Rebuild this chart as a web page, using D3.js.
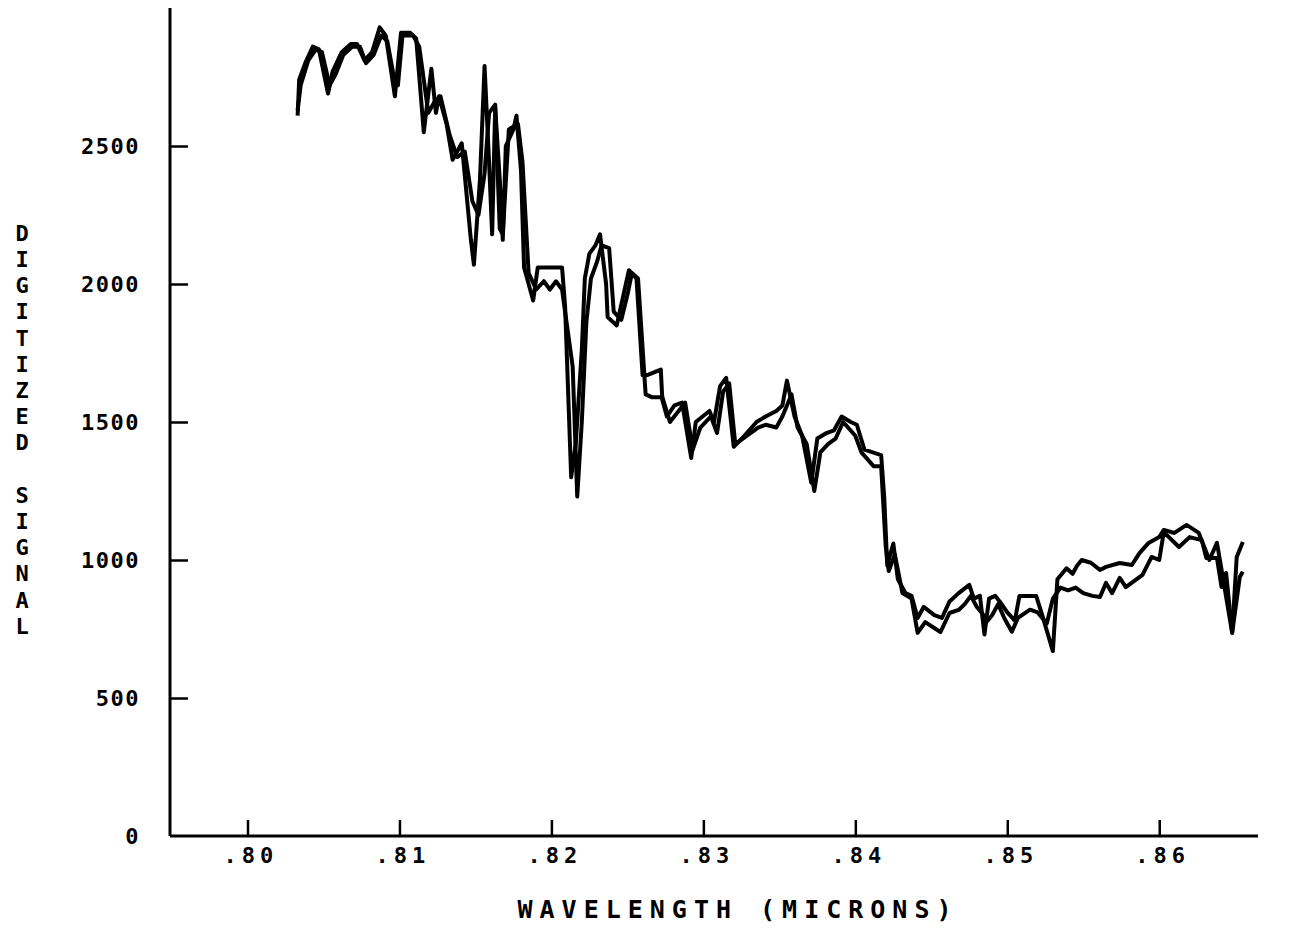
<!DOCTYPE html>
<html>
<head>
<meta charset="utf-8">
<script src="https://cdn.jsdelivr.net/npm/d3@7"></script>
<style>
  body { margin: 0; background: #fff; }
  svg text { font-family: "DejaVu Sans Mono", monospace; font-weight: bold; fill: #000; }
</style>
</head>
<body>
<div id="content"></div>
<script>
// wavelength (microns), digitized signal
const seriesA = [
  [0.8033,2610],[0.8034,2740],[0.8038,2800],[0.8043,2860],[0.8047,2850],[0.8053,2690],[0.8056,2770],
  [0.8062,2840],[0.8068,2870],[0.8072,2870],[0.8077,2810],[0.8082,2840],[0.8087,2930],[0.8091,2900],
  [0.8097,2680],[0.8101,2910],[0.8107,2910],[0.8111,2890],[0.8116,2550],[0.8121,2780],[0.8124,2620],
  [0.8126,2680],[0.8131,2580],[0.8135,2450],[0.8141,2510],[0.8147,2160],[0.8149,2070],[0.8153,2380],
  [0.8156,2790],[0.8159,2440],[0.8161,2180],[0.8163,2640],[0.8166,2380],[0.8168,2160],[0.8170,2500],
  [0.8175,2560],[0.8177,2610],[0.8180,2410],[0.8182,2060],[0.8188,1940],[0.8191,2060],[0.8207,2060],
  [0.8209,1920],[0.8213,1300],[0.8216,1420],[0.8220,1760],[0.8222,2020],[0.8225,2110],[0.8229,2140],
  [0.8232,2180],[0.8236,2000],[0.8237,1880],[0.8243,1850],[0.8247,1950],[0.8251,2050],[0.8256,2020],
  [0.8260,1670],[0.8263,1670],[0.8272,1690],[0.8273,1580],[0.8276,1520],[0.8281,1560],[0.8286,1570],
  [0.8292,1370],[0.8295,1500],[0.8304,1540],[0.8307,1500],[0.8311,1630],[0.8315,1660],[0.8320,1410],
  [0.8327,1450],[0.8335,1500],[0.8341,1520],[0.8348,1540],[0.8352,1560],[0.8355,1650],[0.8360,1520],
  [0.8365,1450],[0.8371,1280],[0.8375,1440],[0.8381,1460],[0.8386,1470],[0.8391,1520],[0.8397,1500],
  [0.8401,1490],[0.8406,1400],[0.8417,1380],[0.8419,1230],[0.8421,980],[0.8425,1060],[0.8428,930],
  [0.8433,880],[0.8437,870],[0.8441,790],[0.8445,830],[0.8452,800],[0.8457,790],[0.8462,850],
  [0.8468,880],[0.8475,910],[0.8478,860],[0.8482,870],[0.8485,730],[0.8488,860],[0.8492,870],
  [0.8495,850],[0.8500,810],[0.8505,780],[0.8508,870],[0.8519,870],[0.8523,800],[0.8530,670],
  [0.8533,930],[0.8539,970],[0.8543,950],[0.8546,980],[0.8549,1000],[0.8555,990],[0.8561,964],
  [0.8565,975],[0.8574,989],[0.8582,982],[0.8587,1025],[0.8593,1062],[0.8600,1083],[0.8603,1109],
  [0.8610,1098],[0.8618,1127],[0.8626,1098],[0.8633,1000],[0.8638,1062],[0.8643,900],[0.8648,736],
  [0.8651,1011],[0.8655,1065]
];

const seriesB = [
  [0.8033,2630],[0.8035,2720],[0.8040,2810],[0.8045,2850],[0.8049,2840],[0.8054,2720],[0.8058,2760],
  [0.8063,2830],[0.8069,2860],[0.8074,2860],[0.8078,2800],[0.8083,2830],[0.8088,2900],[0.8092,2880],
  [0.8096,2760],[0.8099,2720],[0.8102,2900],[0.8109,2900],[0.8113,2860],[0.8119,2620],[0.8123,2660],
  [0.8127,2680],[0.8133,2540],[0.8138,2460],[0.8143,2480],[0.8148,2300],[0.8152,2250],[0.8156,2400],
  [0.8159,2620],[0.8163,2650],[0.8166,2200],[0.8168,2180],[0.8172,2560],[0.8178,2580],[0.8181,2440],
  [0.8185,2040],[0.8190,1980],[0.8195,2010],[0.8199,1980],[0.8203,2010],[0.8207,1980],[0.8210,1860],
  [0.8214,1700],[0.8217,1230],[0.8220,1500],[0.8223,1860],[0.8226,2020],[0.8230,2080],[0.8233,2140],
  [0.8238,2130],[0.8241,1900],[0.8246,1870],[0.8250,1960],[0.8253,2040],[0.8257,2020],[0.8262,1600],
  [0.8266,1590],[0.8273,1590],[0.8278,1500],[0.8288,1570],[0.8293,1400],[0.8298,1480],[0.8305,1520],
  [0.8309,1460],[0.8313,1610],[0.8317,1640],[0.8321,1420],[0.8336,1480],[0.8341,1490],[0.8348,1480],
  [0.8352,1520],[0.8355,1560],[0.8358,1600],[0.8362,1480],[0.8368,1420],[0.8373,1250],[0.8377,1390],
  [0.8382,1420],[0.8387,1440],[0.8392,1500],[0.8400,1450],[0.8404,1390],[0.8412,1340],[0.8417,1340],
  [0.8420,1050],[0.8422,960],[0.8426,1020],[0.8431,880],[0.8437,860],[0.8441,736],[0.8446,775],
  [0.8456,739],[0.8462,808],[0.8468,819],[0.8472,840],[0.8476,870],[0.8480,830],[0.8483,810],
  [0.8487,780],[0.8490,800],[0.8494,840],[0.8498,790],[0.8503,740],[0.8507,790],[0.8515,820],
  [0.8520,810],[0.8526,770],[0.8530,860],[0.8535,900],[0.8540,890],[0.8545,900],[0.8550,880],
  [0.8556,870],[0.8561,866],[0.8565,917],[0.8569,880],[0.8574,935],[0.8578,902],[0.8589,946],
  [0.8595,1011],[0.8600,1000],[0.8603,1101],[0.8613,1047],[0.8620,1083],[0.8628,1072],[0.8631,1007],
  [0.8638,1007],[0.8641,902],[0.8644,953],[0.8648,736],[0.8653,938],[0.8655,957]
];

const xTicks = [0.80, 0.81, 0.82, 0.83, 0.84, 0.85, 0.86];
const yTicks = [0, 500, 1000, 1500, 2000, 2500];
const xTitle = 'WAVELENGTH (MICRONS)';
const yTitle = 'DIGITIZED SIGNAL';

const width = 1298;
const height = 930;

const svg = d3.select('#content').append('svg')
    .attr('width', width)
    .attr('height', height);

const x = d3.scaleLinear().domain([0.7949, 0.8665]).range([170, 1258]);
const y = d3.scaleLinear().domain([0, 3000]).range([836, 8]);

// x axis: ticks point up into the plot
const xAxis = svg.append('g')
    .attr('transform', `translate(0,${y(0)})`)
    .call(d3.axisBottom(x)
        .tickValues(xTicks)
        .tickSizeInner(-16)
        .tickSizeOuter(0)
        .tickPadding(11)
        .tickFormat(d => d.toFixed(2).slice(1)));

// y axis: ticks point right, labels left
const yAxis = svg.append('g')
    .attr('transform', `translate(${x.range()[0]},0)`)
    .call(d3.axisLeft(y)
        .tickValues(yTicks)
        .tickSizeInner(-18)
        .tickSizeOuter(0)
        .tickPadding(30)
        .tickFormat(d3.format('d')));

[xAxis, yAxis].forEach(g => {
    g.select('.domain').attr('stroke', '#000').attr('stroke-width', 3);
    g.selectAll('.tick line').attr('stroke', '#000').attr('stroke-width', 2.5);
    g.selectAll('.tick text')
        .style('font-size', '22px')
        .style('letter-spacing', '1.5px');
});
xAxis.selectAll('.tick text').style('letter-spacing', '5px').attr('dx', '3px');
yAxis.selectAll('.tick').filter(d => d === 0).select('line').remove();
// axis lines: y reaches the top of the frame, x runs from the y axis
yAxis.select('.domain').attr('d', `M0,${y(0)}V${y.range()[1]}`);
xAxis.select('.domain').attr('d', `M${x.range()[0]},0H${x.range()[1]}`);

svg.append('text')
    .attr('x', 738)
    .attr('y', 918)
    .attr('text-anchor', 'middle')
    .style('font-size', '25px')
    .style('letter-spacing', '7px')
    .text(xTitle);

// stacked vertical title
svg.append('g')
    .selectAll('text')
    .data(yTitle.split(''))
    .join('text')
    .attr('x', 22)
    .attr('y', (c, i) => 233 + i * 26.2)
    .attr('dy', '0.35em')
    .attr('text-anchor', 'middle')
    .style('font-size', '22px')
    .text(c => c);

const line = d3.line()
    .x(d => x(d[0]))
    .y(d => y(d[1]));

svg.append('g')
    .selectAll('path')
    .data([seriesB, seriesA])
    .join('path')
    .attr('d', line)
    .attr('fill', 'none')
    .attr('stroke', '#000')
    .attr('stroke-width', 4)
    .attr('stroke-linejoin', 'round');
</script>
</body>
</html>
